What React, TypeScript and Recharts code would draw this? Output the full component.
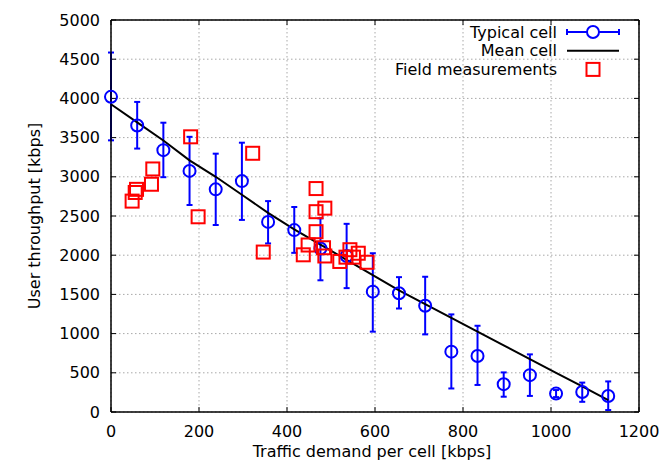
import {
  CartesianGrid,
  ComposedChart,
  ErrorBar,
  Label,
  Legend,
  Line,
  ReferenceLine,
  Scatter,
  XAxis,
  YAxis,
} from "recharts";

const typicalX = [0, 59.5, 119, 178.5, 238, 297.5, 357, 416.5, 476, 535.5, 595, 654.5, 714, 773.5, 833, 892.5, 952, 1011.5, 1071, 1130];
const typicalY = [4020, 3655, 3340, 3075, 2840, 2945, 2425, 2320, 2085, 1990, 1535, 1515, 1355, 770, 715, 355, 470, 235, 255, 205];
const typicalLow = [3465, 3360, 2995, 2640, 2385, 2450, 2150, 2030, 1680, 1580, 1025, 1320, 990, 300, 345, 195, 205, 190, 130, 25];
const typicalHigh = [4585, 3955, 3690, 3510, 3295, 3435, 2690, 2615, 2470, 2400, 2025, 1720, 1725, 1245, 1100, 505, 735, 280, 375, 390];

const meanY = [3925, 3694, 3463, 3210, 3000, 2771, 2540, 2330, 2135, 1941, 1746, 1551, 1375, 1200, 1025, 850, 675, 500, 326, 150];

const fieldX = [48, 55, 58, 92, 95, 181, 198, 322, 346, 437, 448, 466, 466, 486, 466, 483, 486, 520, 534, 543, 551, 562, 582];
const fieldY = [2690, 2800, 2840, 2905, 3100, 3510, 2490, 3300, 2040, 2005, 2130, 2850, 2555, 2600, 2300, 2095, 1990, 1920, 1975, 2070, 1975, 2025, 1910];

const xTicks = [0, 200, 400, 600, 800, 1000, 1200];
const yTicks = [0, 500, 1000, 1500, 2000, 2500, 3000, 3500, 4000, 4500, 5000];

const FONT = "DejaVu Sans, Verdana, sans-serif";
const BLUE = "#0000ff";
const RED = "#ff0000";

const typicalData = typicalX.map((x, i) => ({
  x,
  y: typicalY[i],
  err: [typicalY[i] - typicalLow[i], typicalHigh[i] - typicalY[i]],
}));
const meanData = typicalX.map((x, i) => ({ x, y: meanY[i] }));
const fieldData = fieldX.map((x, i) => ({ x, y: fieldY[i] }));

// tick mark length in data units (about 5px inside the frame)
const xTickLen = (5 * 5000) / 392;
const yTickLen = (5 * 1200) / 528;

const CircleDot = (props: any) => (
  <circle cx={props.cx} cy={props.cy} r={6} fill="none" stroke={BLUE} strokeWidth={2} />
);

const SquareDot = (props: any) => (
  <rect x={props.cx - 6.5} y={props.cy - 6.5} width={13} height={13} fill="none" stroke={RED} strokeWidth={2} />
);

function KeyBox() {
  const textStyle = { fontFamily: FONT, fontSize: 16, fill: "#000" };
  return (
    <svg width={250} height={60}>
      <text x={177} y={17.5} textAnchor="end" {...textStyle}>Typical cell</text>
      <line x1={187} y1={12} x2={239} y2={12} stroke={BLUE} strokeWidth={2} />
      <line x1={187} y1={9} x2={187} y2={15} stroke={BLUE} strokeWidth={2} />
      <line x1={239} y1={9} x2={239} y2={15} stroke={BLUE} strokeWidth={2} />
      <circle cx={213} cy={12} r={6} fill="#fff" stroke={BLUE} strokeWidth={2} />

      <text x={177} y={36.2} textAnchor="end" {...textStyle}>Mean cell</text>
      <line x1={187} y1={30.7} x2={239} y2={30.7} stroke="#000" strokeWidth={2} />

      <text x={177} y={54.9} textAnchor="end" {...textStyle}>Field measurements</text>
      <rect x={206.5} y={42.9} width={13} height={13} fill="none" stroke={RED} strokeWidth={2} />
    </svg>
  );
}

export default function App() {
  return (
    <div style={{ position: "absolute", left: 0, top: 0, background: "#fff" }}>
      <ComposedChart
        width={664}
        height={465}
        margin={{ top: 20, right: 25, bottom: 0, left: 0 }}
      >
        <CartesianGrid stroke="#a8a8a8" strokeDasharray="1.5 2.5" />
        <XAxis
          type="number"
          dataKey="x"
          domain={[0, 1200]}
          ticks={xTicks}
          height={53}
          tickSize={0}
          tickMargin={14}
          axisLine={{ stroke: "#000", strokeWidth: 1.5 }}
          tick={{ fill: "#000", fontSize: 16, fontFamily: FONT }}
        >
          <Label
            content={() => (
              <text x={372} y={457} textAnchor="middle" fontFamily={FONT} fontSize={16} fill="#000">
                Traffic demand per cell [kbps]
              </text>
            )}
          />
        </XAxis>
        <YAxis
          type="number"
          dataKey="y"
          domain={[0, 5000]}
          ticks={yTicks}
          width={111}
          tickSize={0}
          tickMargin={11}
          axisLine={{ stroke: "#000", strokeWidth: 1.5 }}
          tick={{ fill: "#000", fontSize: 16, fontFamily: FONT }}
        >
          <Label
            content={() => (
              <text
                x={40}
                y={216}
                transform="rotate(-90 40 216)"
                textAnchor="middle"
                fontFamily={FONT}
                fontSize={16}
                fill="#000"
              >
                User throughput [kbps]
              </text>
            )}
          />
        </YAxis>

        <ReferenceLine y={5000} stroke="#000" strokeWidth={1.5} />
        <ReferenceLine x={1200} stroke="#000" strokeWidth={1.5} />
        {xTicks.map((t) => (
          <ReferenceLine key={"xb" + t} segment={[{ x: t, y: 0 }, { x: t, y: xTickLen }]} stroke="#000" />
        ))}
        {xTicks.map((t) => (
          <ReferenceLine key={"xt" + t} segment={[{ x: t, y: 5000 }, { x: t, y: 5000 - xTickLen }]} stroke="#000" />
        ))}
        {yTicks.map((t) => (
          <ReferenceLine key={"yl" + t} segment={[{ x: 0, y: t }, { x: yTickLen, y: t }]} stroke="#000" />
        ))}
        {yTicks.map((t) => (
          <ReferenceLine key={"yr" + t} segment={[{ x: 1200, y: t }, { x: 1200 - yTickLen, y: t }]} stroke="#000" />
        ))}

        <Scatter name="Typical cell" data={typicalData} dataKey="y" shape={CircleDot} isAnimationActive={false}>
          <ErrorBar dataKey="err" direction="y" width={3} stroke={BLUE} strokeWidth={2} isAnimationActive={false} />
        </Scatter>
        <Line
          name="Mean cell"
          data={meanData}
          dataKey="y"
          type="linear"
          stroke="#000"
          strokeWidth={2}
          dot={false}
          activeDot={false}
          isAnimationActive={false}
        />
        <Scatter name="Field measurements" data={fieldData} dataKey="y" shape={SquareDot} isAnimationActive={false} />

        <Legend
          layout="vertical"
          align="center"
          verticalAlign="middle"
          content={() => <KeyBox />}
          wrapperStyle={{ position: "absolute", left: 380, top: 20, width: 250, height: 60 }}
        />
      </ComposedChart>
    </div>
  );
}
